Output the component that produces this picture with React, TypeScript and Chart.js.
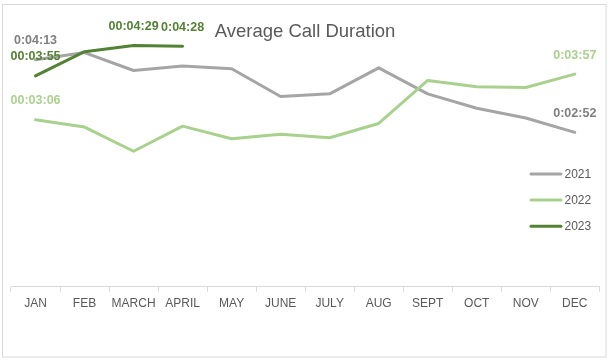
import React, { useEffect, useRef } from "react";
import { Chart, registerables } from "chart.js";

Chart.register(...registerables);

// ---- data (durations in seconds) ----
const months = ["JAN", "FEB", "MARCH", "APRIL", "MAY", "JUNE", "JULY", "AUG", "SEPT", "OCT", "NOV", "DEC"];
const seriesNames = ["2021", "2022", "2023"];
const values2021 = [253, 261, 241, 246, 243, 212, 215, 244, 215, 199, 188, 172];
const values2022 = [186, 178, 151, 179, 165, 170, 166, 182, 230, 223, 222, 237];
const values2023 = [235, 262, 269, 268, null, null, null, null, null, null, null, null];
const labels2021 = ["0:04:13", null, null, null, null, null, null, null, null, null, null, "0:02:52"];
const labels2022 = ["00:03:06", null, null, null, null, null, null, null, null, null, null, "0:03:57"];
const labels2023 = ["00:03:55", null, "00:04:29", "0:04:28", null, null, null, null, null, null, null, null];
const lineColors = ["#a5a5a5", "#a9d18e", "#548235"];
const labelColors = ["#7f7f7f", "#a9d18e", "#548235"];
const titleText = "Average Call Duration";
const yMin = 0;
const yMax = 300;

const FONT = "'Liberation Sans', Arial, sans-serif";
const W = 611;
const H = 363;

const dataLabelSets = [labels2021, labels2022, labels2023];

const decorPlugin = {
  id: "decor",
  beforeDraw(chart: any) {
    const ctx = chart.ctx;
    ctx.save();
    ctx.fillStyle = "#ffffff";
    ctx.fillRect(0, 0, chart.width, chart.height);
    ctx.strokeStyle = "#d9d9d9";
    ctx.lineWidth = 1;
    ctx.strokeRect(2.5, 4.5, 603.5, 352.5);
    ctx.restore();
  },
  afterDatasetsDraw(chart: any) {
    const ctx = chart.ctx;
    ctx.save();
    ctx.font = `bold 12.5px ${FONT}`;
    ctx.textAlign = "center";
    ctx.textBaseline = "middle";
    chart.data.datasets.forEach((ds: any, i: number) => {
      const meta = chart.getDatasetMeta(i);
      const labels = dataLabelSets[i];
      ctx.fillStyle = labelColors[i];
      meta.data.forEach((pt: any, j: number) => {
        const t = labels[j];
        if (!t) return;
        ctx.fillText(t, pt.x, pt.y - 19);
      });
    });
    ctx.restore();
  },
  afterDraw(chart: any) {
    const ctx = chart.ctx;
    ctx.save();
    // title
    ctx.font = `18.5px ${FONT}`;
    ctx.fillStyle = "#595959";
    ctx.textAlign = "center";
    ctx.textBaseline = "alphabetic";
    ctx.fillText(titleText, 305, 36.5);
    // legend
    ctx.font = `12px ${FONT}`;
    ctx.textAlign = "left";
    ctx.textBaseline = "middle";
    const ys = [174, 200, 226.3];
    chart.data.datasets.forEach((ds: any, i: number) => {
      const y = ys[i];
      ctx.strokeStyle = ds.borderColor;
      ctx.lineWidth = 3;
      ctx.lineCap = "round";
      ctx.beginPath();
      ctx.moveTo(531, y);
      ctx.lineTo(561, y);
      ctx.stroke();
      ctx.fillStyle = "#595959";
      ctx.fillText(ds.label, 564.5, y + 0.5);
    });
    ctx.restore();
  },
};

export default function App() {
  const ref = useRef<HTMLCanvasElement | null>(null);

  useEffect(() => {
    if (!ref.current) return;
    const series = [values2021, values2022, values2023];
    const orders = [3, 2, 1];
    const chart = new Chart(ref.current, {
      type: "line",
      data: {
        labels: months,
        datasets: series.map((vals, i) => ({
          label: seriesNames[i],
          data: vals,
          borderColor: lineColors[i],
          backgroundColor: lineColors[i],
          borderWidth: 3,
          pointRadius: 0,
          pointHoverRadius: 0,
          tension: 0,
          spanGaps: false,
          borderJoinStyle: "round" as const,
          borderCapStyle: "round" as const,
          order: orders[i],
        })),
      },
      options: {
        responsive: false,
        animation: false,
        layout: { padding: { left: 11, right: 11.7, top: 17.6, bottom: 0 } },
        plugins: {
          legend: { display: false },
          title: { display: false },
          tooltip: { enabled: false },
        },
        scales: {
          x: {
            offset: true,
            grid: {
              display: true,
              drawOnChartArea: false,
              drawTicks: true,
              tickLength: 5,
              color: "#d9d9d9",
              offset: true,
            },
            border: { display: true, color: "#d9d9d9", width: 1 },
            ticks: {
              color: "#595959",
              font: { family: FONT, size: 12 },
              padding: 5,
              maxRotation: 0,
              autoSkip: false,
            },
            afterFit: (scale: any) => {
              scale.height = 76.3;
            },
          },
          y: {
            display: false,
            min: yMin,
            max: yMax,
          },
        },
      },
      plugins: [decorPlugin],
    });
    return () => chart.destroy();
  }, []);

  return (
    <div style={{ position: "fixed", left: 0, top: 0, width: W, height: H, background: "#fff" }}>
      <canvas ref={ref} width={W} height={H} style={{ display: "block" }} />
    </div>
  );
}
